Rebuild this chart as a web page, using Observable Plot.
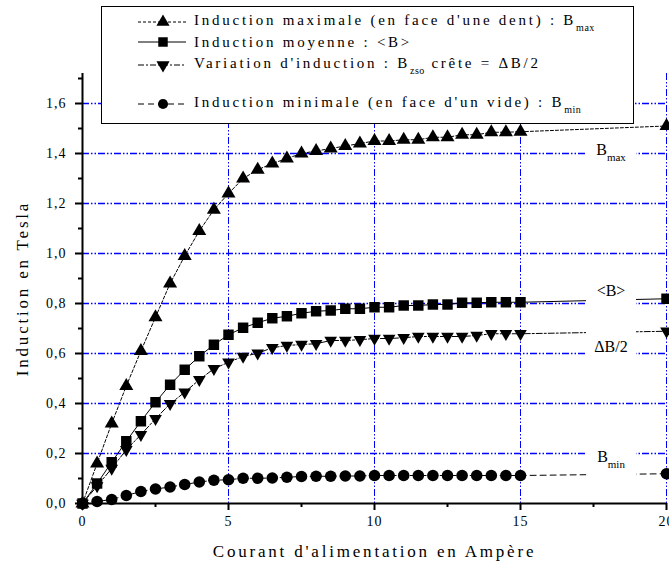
<!DOCTYPE html>
<html>
<head>
<meta charset="utf-8">
<script src="https://cdn.jsdelivr.net/npm/d3@7"></script>
<script src="https://cdn.jsdelivr.net/npm/@observablehq/plot@0.6"></script>
<style>
  body { margin: 0; background: #fff; }
  #wrap { position: relative; width: 669px; height: 569px; font-family: "Liberation Serif", "Times New Roman", serif; }
  #legend { position: absolute; left: 101px; top: 6px; width: 533px; height: 118px; box-sizing: border-box;
            border: 1.5px solid #000; background: #fff; }
  #legend .row { position: absolute; left: 0; height: 20px; display: flex; align-items: center; }
  #legend .row span { font-size: 15px; letter-spacing: 2.75px; white-space: nowrap; color: #000; }
  #legend sub { font-size: 10px; letter-spacing: 0.5px; vertical-align: -6px; }
  .ttl text { letter-spacing: 2.8px; }
  g[aria-label$="tick label"] text { letter-spacing: 1px; }
</style>
</head>
<body>
<div id="wrap"><div id="legend"></div></div>
<script>
// ---- data ----
const current = [0, 0.5, 1, 1.5, 2, 2.5, 3, 3.5, 4, 4.5, 5, 5.5, 6, 6.5, 7, 7.5, 8, 8.5, 9, 9.5,
                 10, 10.5, 11, 11.5, 12, 12.5, 13, 13.5, 14, 14.5, 15, 20];
const bMax = [0, 0.16, 0.32, 0.47, 0.61, 0.745, 0.88, 0.99, 1.09, 1.175, 1.24, 1.30, 1.335, 1.36, 1.38, 1.40,
              1.41, 1.42, 1.43, 1.44, 1.45, 1.45, 1.455, 1.455, 1.465, 1.465, 1.475, 1.475, 1.485, 1.485, 1.487, 1.51];
const bMoy = [0, 0.08, 0.165, 0.249, 0.329, 0.405, 0.475, 0.535, 0.589, 0.635, 0.675, 0.703, 0.723, 0.741, 0.749, 0.761,
              0.769, 0.772, 0.779, 0.779, 0.785, 0.785, 0.792, 0.792, 0.796, 0.796, 0.803, 0.803, 0.805, 0.805, 0.805, 0.819];
const dB2  = [0, 0.07, 0.14, 0.215, 0.275, 0.339, 0.399, 0.445, 0.495, 0.539, 0.565, 0.588, 0.601, 0.623, 0.632, 0.636,
              0.639, 0.652, 0.652, 0.655, 0.66, 0.66, 0.663, 0.668, 0.668, 0.668, 0.668, 0.672, 0.679, 0.679, 0.679, 0.689];
const bMin = [0, 0.008, 0.016, 0.032, 0.048, 0.058, 0.066, 0.076, 0.086, 0.093, 0.095, 0.101, 0.101, 0.102, 0.105, 0.108,
              0.109, 0.109, 0.11, 0.11, 0.112, 0.112, 0.112, 0.112, 0.112, 0.112, 0.112, 0.112, 0.112, 0.112, 0.112, 0.119];

const yTicks = [0, 0.2, 0.4, 0.6, 0.8, 1.0, 1.2, 1.4, 1.6];
const yMinorTicks = [0.1, 0.3, 0.5, 0.7, 0.9, 1.1, 1.3, 1.5, 1.7];
const xTicks = [0, 5, 10, 15, 20];
const xMinorTicks = [2.5, 7.5, 12.5, 17.5];
const yGrid = [0.2, 0.4, 0.6, 0.8, 1.0, 1.2, 1.4, 1.6];
const xGrid = [5, 10, 15, 20];

const legendTexts = [
  ["Induction maximale (en face d'une dent) : B", "max", ""],
  ["Induction moyenne : <B>", "", ""],
  ["Variation d'induction : B", "zso", " crête = ΔB/2"],
  ["Induction minimale (en face d'un vide) : B", "min", ""]
];
const curveLabels = [
  {main: "B", sub: "max"},
  {main: "<B>", sub: ""},
  {main: "ΔB/2", sub: ""},
  {main: "B", sub: "min"}
];
const xTitle = "Courant d'alimentation en Ampère";
const yTitle = "Induction en Tesla";

// ---- styles ----
const seriesValues = [bMax, bMoy, dB2, bMin];
const styles = [
  {symbol: "triangle", rotate: 0,   r: 5.2, dash: "3,2",       lab: {dy: 24}},
  {symbol: "square",   rotate: 0,   r: 5.9, dash: null,        lab: {dy: -8}},
  {symbol: "triangle", rotate: 180, r: 4.7, dash: "6,2,2,2",   lab: {dy: 16}},
  {symbol: "circle",   rotate: 0,   r: 5.8, dash: "6,4",       lab: {dy: -17}}
];
const labelX = 18.1;

const rowsOf = (vals) => current.map((x, i) => ({x, y: vals[i]}));
const fmt = d => d.toFixed(1).replace(".", ",");

const marks = [
  Plot.ruleY(yGrid, {y: d => d, stroke: "#0000ff", strokeWidth: 1.5, strokeDasharray: "7,2,1.5,2,1.5,2"}),
  Plot.ruleX(xGrid, {x: d => d, stroke: "#0000ff", strokeWidth: 1, strokeDasharray: "7,2,1.5,2,1.5,2"})
];
seriesValues.forEach((vals, k) => {
  const s = styles[k];
  marks.push(Plot.line(rowsOf(vals), {x: "x", y: "y", stroke: "#000", strokeWidth: 1, strokeDasharray: s.dash}));
});
seriesValues.forEach((vals, k) => {
  const s = styles[k];
  marks.push(Plot.dot(rowsOf(vals), {x: "x", y: "y", symbol: s.symbol, r: s.r, fill: "#000", stroke: "none", rotate: s.rotate}));
});
marks.push(
  Plot.axisY(yTicks, {tickFormat: fmt, tickSize: 7, tickPadding: 9, fontSize: 14, strokeWidth: 2, label: null}),
  Plot.axisY(yMinorTicks, {tickFormat: () => "", tickSize: 4, strokeWidth: 2, label: null}),
  Plot.axisX(xTicks, {tickSize: 7, tickPadding: 6, fontSize: 14, strokeWidth: 2, label: null}),
  Plot.axisX(xMinorTicks, {tickFormat: () => "", tickSize: 4, strokeWidth: 2, label: null}),
  Plot.ruleX([0], {stroke: "#000", strokeWidth: 2}),
  Plot.ruleY([0], {stroke: "#000", strokeWidth: 2}),
  Plot.text([xTitle], {frameAnchor: "bottom", textAnchor: "middle", lineAnchor: "middle", dy: 48, fontSize: 17, fill: "#000", className: "ttl"}),
  Plot.text([yTitle], {frameAnchor: "left", textAnchor: "middle", lineAnchor: "middle", dx: -60, rotate: -90, fontSize: 17, fill: "#000", className: "ttl"})
);
curveLabels.forEach((L, k) => {
  const vals = seriesValues[k];
  marks.push(Plot.text([{x: labelX, y: vals[vals.length - 1], t: L.main}],
    {x: "x", y: "y", text: "t", dy: styles[k].lab.dy, fontSize: 16, fill: "#000",
     className: "lbl" + k, ariaLabel: "lbl" + k}));
});

const chart = Plot.plot({
  width: 669, height: 569,
  marginLeft: 82, marginRight: 3, marginTop: 73, marginBottom: 66,
  x: {domain: [0, 20]},
  y: {domain: [0, 1.72]},
  style: {fontFamily: "'Liberation Serif', 'Times New Roman', serif", background: "#fff", color: "#000", overflow: "visible"},
  marks
});
const wrap = document.getElementById("wrap");
wrap.insertBefore(chart, wrap.firstChild);

// subscripts and white boxes behind curve labels
const NS = "http://www.w3.org/2000/svg";
curveLabels.forEach((L, k) => {
  const g = chart.querySelector("g.lbl" + k) || chart.querySelector(`g[aria-label="lbl${k}"]`);
  if (!g) return;
  const t = g.querySelector("text");
  if (!t) return;
  if (L.sub) {
    const ts = document.createElementNS(NS, "tspan");
    ts.setAttribute("font-size", "11");
    ts.setAttribute("dy", "6");
    ts.textContent = L.sub;
    t.appendChild(ts);
  }
  const bb = t.getBBox();
  const cx = bb.x + bb.width / 2, cy = bb.y + bb.height / 2;
  const r = document.createElementNS(NS, "rect");
  r.setAttribute("x", cx - 25); r.setAttribute("width", 50);
  r.setAttribute("y", cy - 19); r.setAttribute("height", 38);
  r.setAttribute("fill", "#fff");
  const tr = t.getAttribute("transform");
  if (tr) r.setAttribute("transform", tr);
  g.insertBefore(r, t);
});

// legend (HTML overlay)
const legend = document.getElementById("legend");
const rowTops = [5, 25, 48, 87];
legendTexts.forEach((txt, k) => {
  const s = styles[k];
  const row = document.createElement("div");
  row.className = "row";
  row.style.top = rowTops[k] + "px";
  const sv = d3.create("svg").attr("width", 92).attr("height", 20);
  sv.append("line").attr("x1", 36).attr("x2", 84).attr("y1", 10).attr("y2", 10)
    .attr("stroke", "#000").attr("stroke-width", 1).attr("stroke-dasharray", s.dash);
  const sym = s.symbol === "triangle" ? d3.symbolTriangle : s.symbol === "square" ? d3.symbolSquare : d3.symbolCircle;
  const size = s.symbol === "circle" ? 80 : s.symbol === "square" ? 90 : 75;
  sv.append("path").attr("d", d3.symbol(sym, size)()).attr("fill", "#000")
    .attr("transform", `translate(61,10) rotate(${s.rotate})`);
  row.appendChild(sv.node());
  const span = document.createElement("span");
  span.append(txt[0]);
  if (txt[1]) { const sb = document.createElement("sub"); sb.textContent = txt[1]; span.append(sb); }
  if (txt[2]) span.append(txt[2]);
  row.appendChild(span);
  legend.appendChild(row);
});
</script>
</body>
</html>
